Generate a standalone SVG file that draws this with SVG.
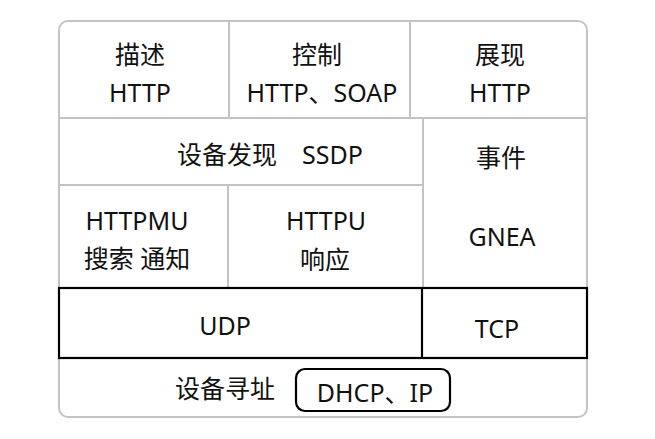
<svg xmlns="http://www.w3.org/2000/svg" width="655" height="439" viewBox="0 0 655 439">
<style>
.g{stroke:#c3c3c3;stroke-width:2;fill:none}
.k{stroke:#000;stroke-width:2.2;fill:none}
text{font-family:"Noto Sans","Noto Sans CJK SC",sans-serif;font-size:25px;fill:#111;text-anchor:middle}
</style>
<rect width="655" height="439" fill="#fff"/>
<g id="frame">
<rect class="g" x="59" y="21" width="528" height="396" rx="9"/>
</g>
<g id="connectors">
<line class="g" x1="59" y1="118" x2="587" y2="118"/>
<line class="g" x1="229" y1="21" x2="229" y2="118"/>
<line class="g" x1="410" y1="21" x2="410" y2="118"/>
<line class="g" x1="59" y1="185" x2="423" y2="185"/>
<line class="g" x1="423" y1="118" x2="423" y2="288"/>
<line class="g" x1="228" y1="185" x2="228" y2="288"/>
</g>
<g id="describe"><text x="140" y="64">描述</text><text x="140" y="102">HTTP</text></g>
<g id="control"><text x="317" y="64">控制</text><text x="322" y="102">HTTP、SOAP</text></g>
<g id="present"><text x="500" y="64">展现</text><text x="500" y="102">HTTP</text></g>
<g id="discovery"><text x="270" y="164">设备发现　SSDP</text></g>
<g id="event"><text x="501" y="167">事件</text><text x="502" y="246">GNEA</text></g>
<g id="httpmu"><text x="137" y="230">HTTPMU</text><text x="137" y="268">搜索 通知</text></g>
<g id="httpu"><text x="326" y="230">HTTPU</text><text x="325" y="269">响应</text></g>
<g id="transport">
<rect class="k" x="59" y="288" width="528" height="70"/>
<line class="k" x1="422" y1="288" x2="422" y2="358"/>
<text x="225" y="335">UDP</text>
<text x="497" y="338">TCP</text>
</g>
<g id="addressing"><text x="225" y="398">设备寻址</text></g>
<g id="dhcp">
<rect class="k" x="296" y="369" width="154" height="42" rx="9"/>
<text x="375" y="402">DHCP、IP</text>
</g>
</svg>
